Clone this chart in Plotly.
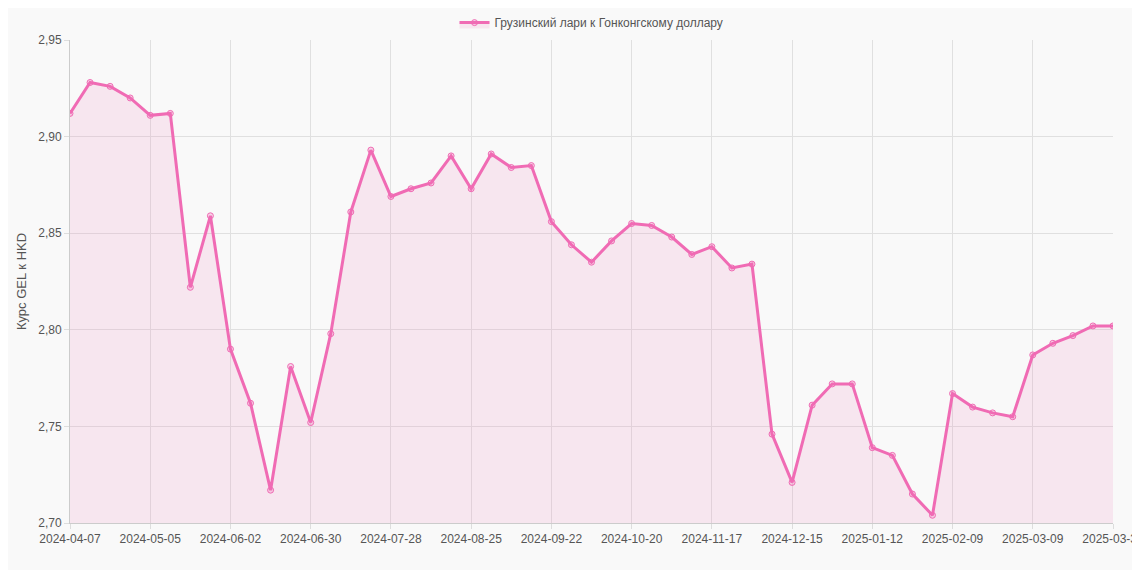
import datetime as dt
import plotly.graph_objects as go

# weekly dates, last point is 2025-03-31
start = dt.date(2024, 4, 7)
dates = [(start + dt.timedelta(weeks=i)).isoformat() for i in range(52)] + ["2025-03-31"]

rates = [2.912, 2.928, 2.926, 2.920, 2.911, 2.912, 2.822, 2.859, 2.790, 2.762,
         2.717, 2.781, 2.752, 2.798, 2.861, 2.893, 2.869, 2.873, 2.876, 2.890,
         2.873, 2.891, 2.884, 2.885, 2.856, 2.844, 2.835, 2.846, 2.855, 2.854,
         2.848, 2.839, 2.843, 2.832, 2.834, 2.746, 2.721, 2.761, 2.772, 2.772,
         2.739, 2.735, 2.715, 2.704, 2.767, 2.760, 2.757, 2.755, 2.787, 2.793,
         2.797, 2.802, 2.802]

tick_labels = dates[::4] + [dates[-1]]

PINK = "#f06bb4"

fig = go.Figure()
fig.add_trace(go.Scatter(
    x=dates, y=rates, name="Грузинский лари к Гонконгскому доллару",
    mode="lines+markers", fill="tozeroy", fillcolor="rgba(240,107,180,0.13)",
    line=dict(color=PINK, width=3),
    marker=dict(size=6, color="rgba(240,107,180,0.25)", line=dict(color=PINK, width=1)),
))

fig.update_layout(
    width=1140, height=570,
    paper_bgcolor="#f9f9f9", plot_bgcolor="#f9f9f9",
    font=dict(family="Liberation Sans", size=12, color="#555"),
    margin=dict(l=62, r=35, t=32, b=55, autoexpand=False),
    separators=",.",
    showlegend=True,
    legend=dict(orientation="h", x=0.5, xanchor="center", y=1.066, yanchor="top",
                bgcolor="rgba(0,0,0,0)", font=dict(size=12, color="#555")),
    xaxis=dict(type="category", tickvals=tick_labels, ticktext=tick_labels,
               showgrid=True, gridcolor="#e0e0e0", linecolor="#ccc", showline=True,
               automargin=False,
               range=[0, len(dates) - 1], ticks="outside", ticklen=5, tickcolor="#ddd"),
    yaxis=dict(range=[2.70, 2.95], dtick=0.05, tickformat=".2f", automargin=False,
               showgrid=True, gridcolor="#e0e0e0", linecolor="#ccc", showline=True,
               zeroline=False, ticks="outside", ticklen=5, tickcolor="#ddd",
               title=dict(text="Курс GEL к HKD", standoff=8,
                          font=dict(size=13, color="#555"))),
)

fig.write_html("out.html")
